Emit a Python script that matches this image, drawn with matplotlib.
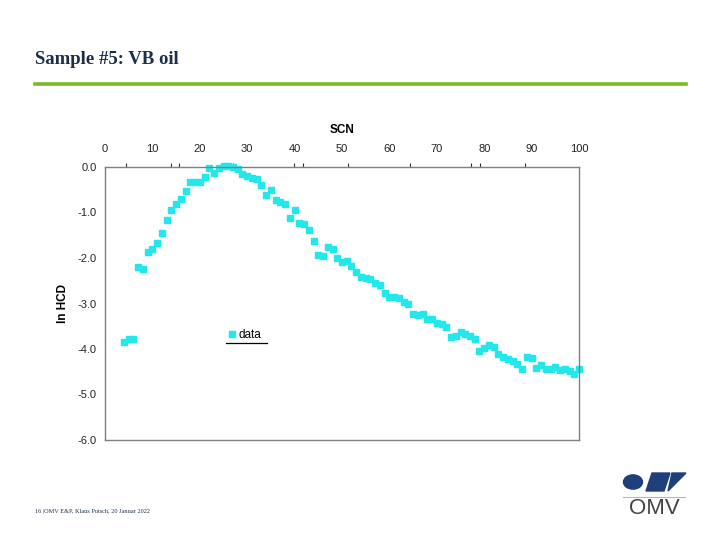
import matplotlib
matplotlib.use("Agg")
import matplotlib.pyplot as plt
from matplotlib.patches import Circle, Polygon
from matplotlib.lines import Line2D

# carbon number and ln HCD values
scn = list(range(4, 101))
ln_hcd = [
    -3.85, -3.78, -3.77, -2.20, -2.24, -1.86, -1.81, -1.68, -1.44, -1.16,
    -0.94, -0.82, -0.71, -0.53, -0.32, -0.32, -0.32, -0.22, -0.02, -0.14,
    -0.03, 0.02, 0.02, 0.01, -0.04, -0.15, -0.20, -0.25, -0.26, -0.40,
    -0.61, -0.51, -0.73, -0.77, -0.82, -1.11, -0.95, -1.22, -1.25, -1.38,
    -1.63, -1.93, -1.95, -1.75, -1.81, -1.99, -2.09, -2.07, -2.17, -2.31,
    -2.41, -2.45, -2.46, -2.56, -2.59, -2.78, -2.85, -2.86, -2.89, -2.97,
    -3.01, -3.22, -3.25, -3.23, -3.33, -3.35, -3.42, -3.45, -3.52, -3.74,
    -3.71, -3.62, -3.67, -3.71, -3.77, -4.04, -3.98, -3.91, -3.96, -4.11,
    -4.18, -4.22, -4.26, -4.34, -4.44, -4.17, -4.19, -4.41, -4.35, -4.45,
    -4.45, -4.39, -4.46, -4.45, -4.48, -4.54, -4.45,
]
x_ticks = [0, 10, 20, 30, 40, 50, 60, 70, 80, 90, 100]
y_ticks = [0.0, -1.0, -2.0, -3.0, -4.0, -5.0, -6.0]
# odd little tick marks on the top spine
top_marks = [4.4, 14.0, 15.6, 26.9, 39.9, 41.8, 51.3, 64.3, 77.3, 79.1, 88.6]

fig = plt.figure(figsize=(7.2, 5.4), dpi=100)
fig.patch.set_facecolor("white")

# slide header
fig.text(35 / 720, 1 - 60 / 540, "Sample #5: VB oil", family="Liberation Serif",
         fontsize=13.5, fontweight="bold", color="#1b2f4b", va="center", ha="left")
fig.add_artist(Line2D([35 / 720, 686 / 720], [1 - 84 / 540] * 2, color="#7ab929",
                      lw=2.6, transform=fig.transFigure))

# chart
ax = fig.add_axes([105 / 720, 1 - 440 / 540, 474 / 720, 273 / 540])
ax.plot(scn, ln_hcd, ls="none", marker="s", ms=3.8, color="#22e8ec",
        mec="#22e8ec", label="data", clip_on=False)
ax.set_xlim(0, 100)
ax.set_ylim(-6, 0)
ax.xaxis.tick_top()
ax.xaxis.set_label_position("top")
ax.set_xticks(x_ticks)
ax.set_xticklabels([str(v) for v in x_ticks])
ax.set_xticks(top_marks, minor=True)
ax.set_yticks(y_ticks)
ax.set_yticklabels([f"{v:.1f}" for v in y_ticks])
ax.tick_params(axis="x", which="major", length=0, pad=9, labelsize=8, labelcolor="#222222")
ax.tick_params(axis="x", which="minor", length=3, width=0.8, color="#333333", direction="out")
ax.tick_params(axis="y", length=0, pad=6, labelsize=8, labelcolor="#222222")
for lab in ax.get_xticklabels() + ax.get_yticklabels():
    lab.set_family("Liberation Sans")
ax.set_xlabel("SCN", family="Liberation Sans", fontsize=8.5, fontweight="bold", labelpad=8)
ax.set_ylabel("ln HCD", family="Liberation Sans", fontsize=8.5, fontweight="bold", labelpad=6)
for sp in ax.spines.values():
    sp.set_color("#808080")
    sp.set_linewidth(1.0)

leg = ax.legend(loc="center left", bbox_to_anchor=(0.25, 0.385), frameon=False,
                handlelength=0.4, handletextpad=0.4, borderpad=0,
                prop={"family": "Liberation Sans", "size": 8.5})
ax.add_line(Line2D([0.255, 0.342], [0.355, 0.355], color="black", lw=0.9,
                   transform=ax.transAxes))

# footer
fig.text(35 / 720, 1 - 512 / 540, "16 |OMV E&P, Klaus Potsch, 20 Januar 2022",
         family="Liberation Serif", fontsize=4.5, color="#1b2f4b", va="center")

# OMV logo, roughly
navy = "#1f3f7a"
fig.add_artist(Circle((633 / 720, 1 - 482 / 540), 9.5 / 720, color=navy,
                      transform=fig.transFigure))
fig.add_artist(Polygon([[646 / 720, 1 - 491 / 540], [652 / 720, 1 - 473 / 540],
                        [670 / 720, 1 - 473 / 540], [664 / 720, 1 - 491 / 540]],
                       closed=True, color=navy, transform=fig.transFigure))
fig.add_artist(Polygon([[668 / 720, 1 - 491 / 540], [686 / 720, 1 - 473 / 540],
                        [672 / 720, 1 - 473 / 540]], closed=True, color=navy,
                       transform=fig.transFigure))
fig.add_artist(Line2D([623 / 720, 685 / 720], [1 - 497 / 540] * 2, color="#b8b89a",
                      lw=0.8, transform=fig.transFigure))
fig.text(654 / 720, 1 - 509 / 540, "OMV", family="Liberation Sans", fontsize=16,
         color="#444444", ha="center", va="center")

fig.savefig("out.png", dpi=100)
